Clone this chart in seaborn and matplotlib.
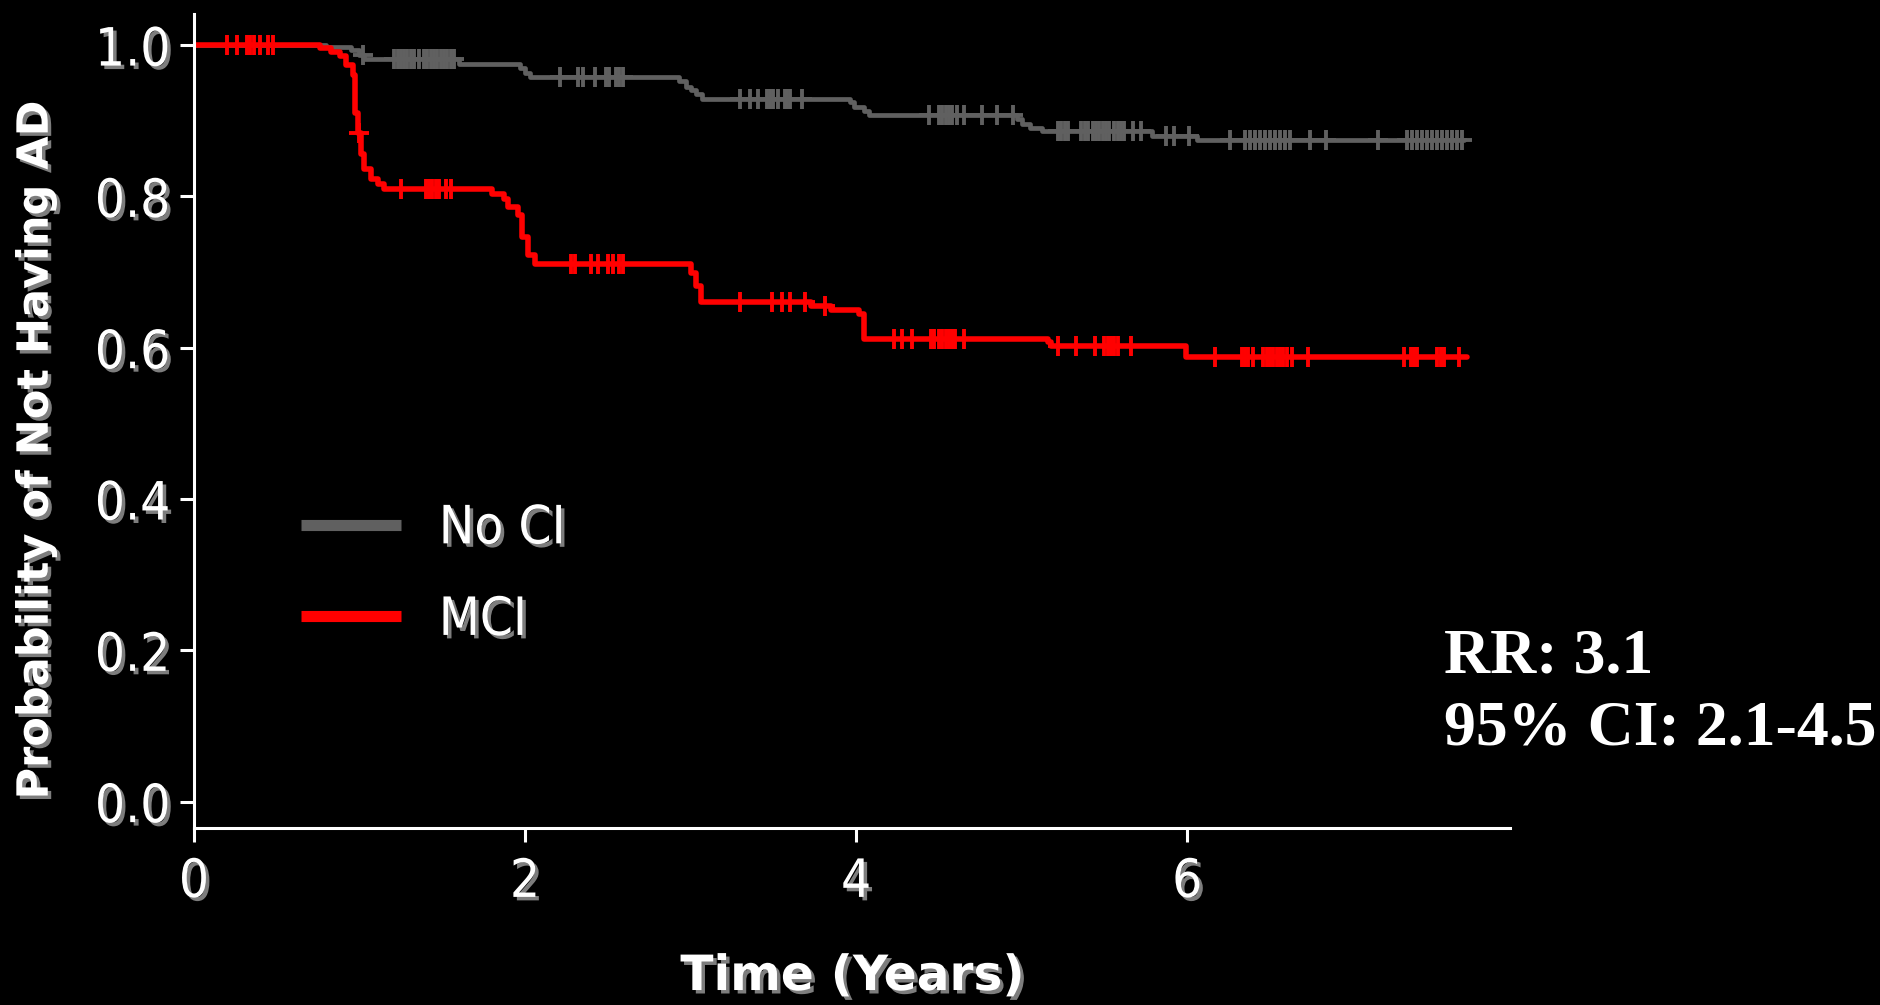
import os
import numpy as np
import pandas as pd
import matplotlib
matplotlib.use("Agg")
import matplotlib.pyplot as plt
import matplotlib.patheffects as pe
from matplotlib import font_manager as fm
from matplotlib.lines import Line2D
import seaborn as sns

# ---------------- data ----------------
groups = ["No CI", "MCI"]
group_colors = ["#606060", "#ff0000"]

# No CI (gray) Kaplan-Meier steps
nci_time = [0.0, 0.80, 0.95, 1.00, 1.03, 1.60, 1.97, 2.00, 2.03, 2.93, 2.97, 3.00,
            3.03, 3.07, 3.96, 3.99, 4.05, 4.08, 4.97, 5.00, 5.05, 5.12, 5.79, 6.06, 7.67]
nci_surv = [1.000, 0.997, 0.993, 0.987, 0.981, 0.975, 0.970, 0.963, 0.958, 0.953, 0.945, 0.940,
            0.935, 0.929, 0.925, 0.918, 0.913, 0.908, 0.902, 0.896, 0.891, 0.886, 0.880, 0.874, 0.874]
nci_censor = [1.02, 1.21, 1.23, 1.25, 1.27, 1.29, 1.31, 1.33, 1.36, 1.39, 1.41, 1.43, 1.45, 1.47,
              1.49, 1.51, 1.53, 1.55, 1.57,
              2.21, 2.32, 2.35, 2.42, 2.49, 2.51, 2.55, 2.57, 2.59,
              3.30, 3.36, 3.41, 3.46, 3.48, 3.50, 3.53, 3.57, 3.58, 3.60, 3.67,
              4.44, 4.50, 4.52, 4.54, 4.56, 4.58, 4.61, 4.65, 4.76, 4.85, 4.95,
              5.22, 5.24, 5.26, 5.28, 5.36, 5.38, 5.40, 5.43, 5.45, 5.47, 5.49, 5.51, 5.53,
              5.56, 5.58, 5.60, 5.62, 5.67, 5.72, 5.87, 5.92, 6.01,
              6.26, 6.35, 6.38, 6.41, 6.44, 6.47, 6.50, 6.53, 6.56, 6.59, 6.62, 6.74, 6.84,
              7.15, 7.33, 7.36, 7.39, 7.42, 7.45, 7.48, 7.51, 7.54, 7.57, 7.60, 7.63, 7.66]

# MCI (red) Kaplan-Meier steps
mci_time = [0.0, 0.76, 0.83, 0.88, 0.92, 0.96, 0.975, 0.99, 1.01, 1.03, 1.07, 1.11, 1.15,
            1.80, 1.87, 1.90, 1.96, 1.98, 2.02, 2.06, 3.00, 3.03, 3.06, 3.73, 3.85, 4.02,
            4.05, 5.16, 5.18, 5.99, 7.69]
mci_surv = [1.000, 0.996, 0.991, 0.985, 0.974, 0.961, 0.910, 0.884, 0.856, 0.836, 0.823, 0.816, 0.810,
            0.803, 0.797, 0.786, 0.775, 0.746, 0.722, 0.711, 0.699, 0.681, 0.661, 0.655, 0.650, 0.645,
            0.611, 0.607, 0.602, 0.588, 0.588]
mci_censor = [0.20, 0.26, 0.32, 0.34, 0.36, 0.40, 0.45, 0.48, 1.00, 1.25, 1.40, 1.42, 1.44, 1.46,
              1.48, 1.52, 1.55, 2.28, 2.30, 2.40, 2.44, 2.50, 2.53, 2.57, 2.59,
              3.30, 3.49, 3.55, 3.60, 3.69, 3.81, 4.23, 4.28, 4.34, 4.45, 4.47, 4.50, 4.52,
              4.54, 4.56, 4.58, 4.60, 4.65, 5.22, 5.33, 5.44, 5.50, 5.52, 5.54, 5.56, 5.58,
              5.66, 6.17, 6.33, 6.35, 6.37, 6.40, 6.46, 6.48, 6.50, 6.52, 6.54, 6.56, 6.58,
              6.60, 6.63, 6.73, 7.31, 7.35, 7.37, 7.39, 7.51, 7.53, 7.55, 7.64]

xticks = [0, 2, 4, 6]
yticks = [0.0, 0.2, 0.4, 0.6, 0.8, 1.0]
xlabel = "Time (Years)"
ylabel = "Probability of Not Having AD"
annot_lines = ["RR: 3.1", "95% CI: 2.1-4.5"]

# ---------------- fonts ----------------
def find_condensed():
    prefs = ["liberationsansnarrow-regular", "dejavusanscondensed.", "robotocondensed-regular",
             "opensans_condensed-regular", "opensans-condensedregular", "notosans-condensed.",
             "notosanscondensed-regular", "condensed", "narrow"]
    files = [f.fname for f in fm.fontManager.ttflist]
    for p in prefs:
        for fn in files:
            b = os.path.basename(fn).lower()
            if p in b and "bold" not in b and "italic" not in b and "oblique" not in b \
                    and "light" not in b and "medium" not in b and "semi" not in b \
                    and "thin" not in b and "black" not in b:
                return fn
    return None

cond_file = find_condensed()

def tick_fp(size):
    if cond_file:
        return fm.FontProperties(fname=cond_file, size=size)
    return fm.FontProperties(family="DejaVu Sans", size=size * 0.8)

sns.set_theme(style="white")
plt.rcParams["font.family"] = ["DejaVu Sans"]
plt.rcParams["axes.facecolor"] = "black"
plt.rcParams["figure.facecolor"] = "black"

shadow = [pe.withSimplePatchShadow(offset=(2.5, -2.5), shadow_rgbFace=(0.55, 0.55, 0.55), alpha=0.9)]

# ---------------- figure ----------------
fig = plt.figure(figsize=(18.81, 10.05), dpi=100)
fig.patch.set_facecolor("black")
ax = fig.add_axes([0.1031, 0.176, 0.6997, 0.810])
ax.set_facecolor("black")

series = [(nci_time, nci_surv, nci_censor, 3.4), (mci_time, mci_surv, mci_censor, 4.0)]
for (t, s, cens, lw), g, c in zip(series, groups, group_colors):
    df = pd.DataFrame({"time": t, "surv": s, "group": g})
    sns.lineplot(data=df, x="time", y="surv", color=c, estimator=None, sort=False,
                 drawstyle="steps-post", linewidth=lw, ax=ax, legend=False)
    t_arr = np.asarray(t)
    s_arr = np.asarray(s)
    idx = np.searchsorted(t_arr, np.asarray(cens), side="right") - 1
    ax.plot(cens, s_arr[idx], linestyle="none", marker="+", markersize=15,
            markeredgewidth=2.8, color=c)

ax.set_xlim(0, 7.95)
ax.set_ylim(-0.035, 1.041)

for side in ["top", "right"]:
    ax.spines[side].set_visible(False)
for side in ["left", "bottom"]:
    ax.spines[side].set_color("white")
    ax.spines[side].set_linewidth(2.2)

ax.set_xticks(xticks)
ax.set_yticks(yticks)
ax.set_xticklabels([str(v) for v in xticks], fontproperties=tick_fp(38), color="white")
ax.set_yticklabels([f"{v:.1f}" for v in yticks], fontproperties=tick_fp(38), color="white")
ax.tick_params(axis="both", which="major", direction="out", length=10, width=2.2,
               color="white", left=True, bottom=True)
ax.tick_params(axis="y", pad=7)
ax.tick_params(axis="x", pad=10)
for lab in ax.get_xticklabels() + ax.get_yticklabels():
    lab.set_path_effects(shadow)
ax.set_xlabel("")
ax.set_ylabel("")

fig.text(0.4532, 0.0149, xlabel, ha="center", va="baseline", fontsize=35,
         fontweight="bold", color="white", family="DejaVu Sans", path_effects=shadow)
fig.text(0.019, 0.552, ylabel, ha="center", va="center", rotation=90, fontsize=31,
         fontweight="bold", color="white", family="DejaVu Sans", path_effects=shadow)

handles = [Line2D([], [], color=c, linewidth=8, solid_capstyle="butt") for c in group_colors]
leg = ax.legend(handles, groups, loc="center left", bbox_to_anchor=(0.081, 0.312),
                frameon=False, borderpad=0, borderaxespad=0, handlelength=1.9,
                handletextpad=0.72, labelspacing=0.75, prop=tick_fp(38))
for txt in leg.get_texts():
    txt.set_color("white")
    txt.set_path_effects(shadow)

fig.text(0.7677, 0.331, annot_lines[0], ha="left", va="baseline", fontsize=46,
         fontweight="bold", color="white", family="Liberation Serif")
fig.text(0.7677, 0.259, annot_lines[1], ha="left", va="baseline", fontsize=46,
         fontweight="bold", color="white", family="Liberation Serif")

fig.savefig("out.png", dpi=100, facecolor="black")
